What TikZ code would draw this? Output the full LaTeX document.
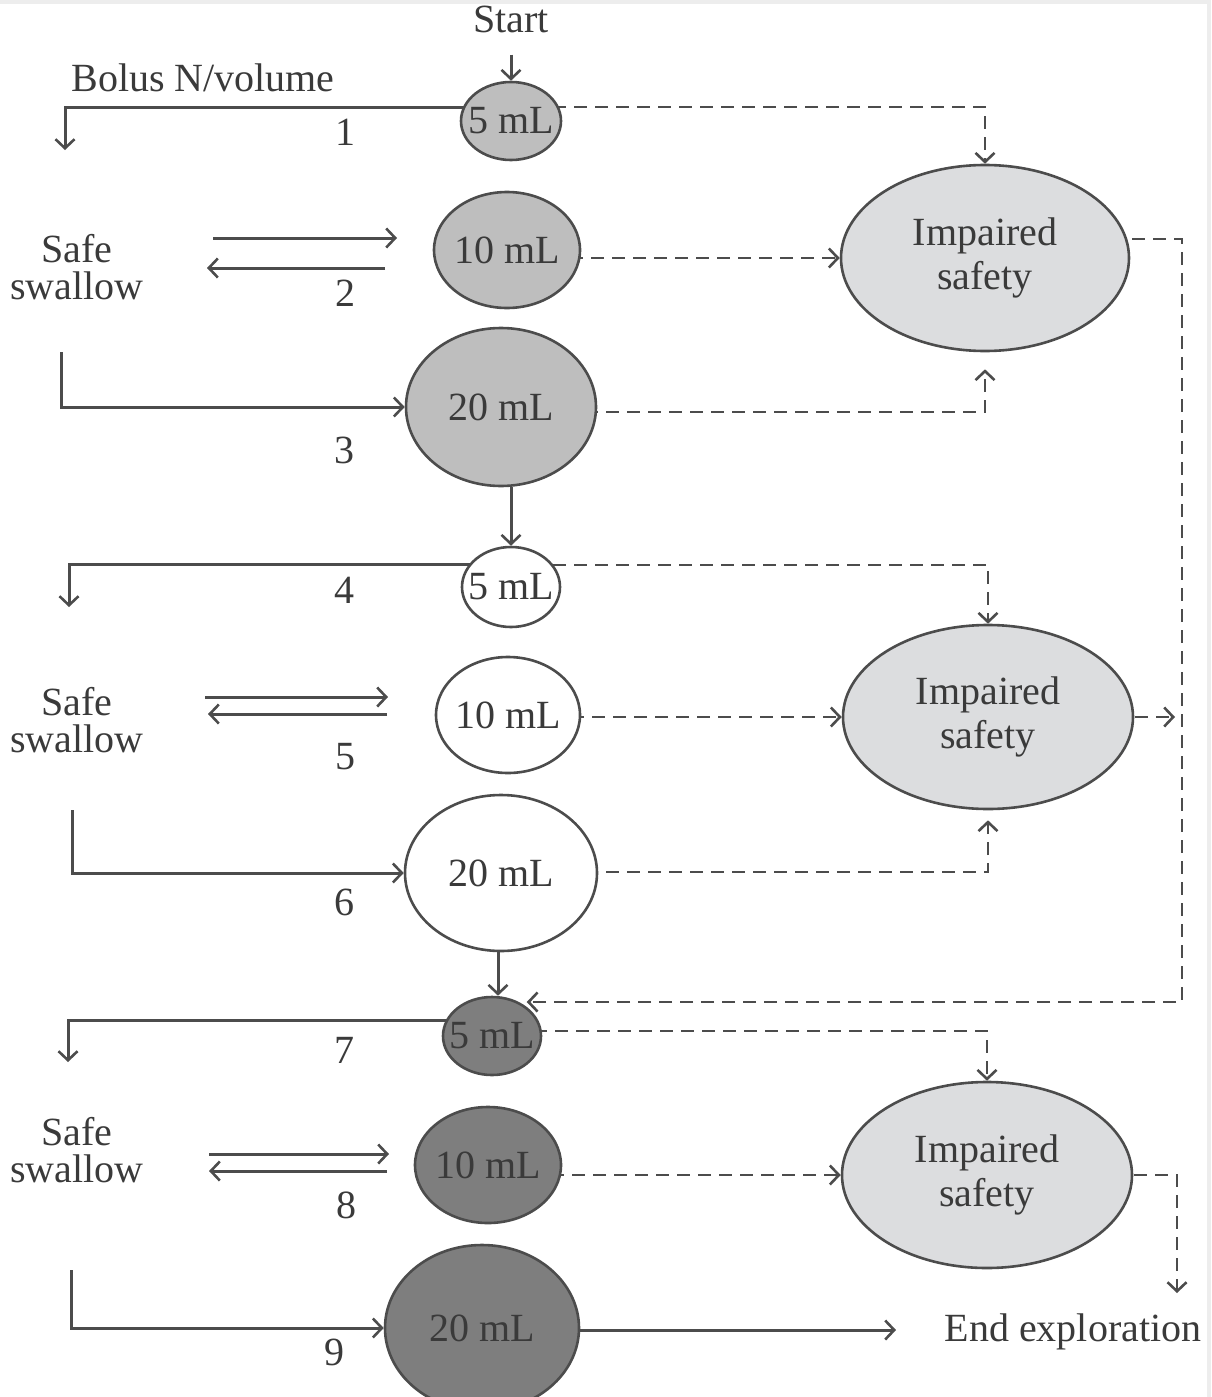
\documentclass[tikz,border=0pt]{standalone}
\usepackage{fontspec}
\setmainfont{Liberation Serif}
\usetikzlibrary{shapes.geometric,arrows.meta,backgrounds}
\definecolor{linec}{HTML}{4C4C4C}
\definecolor{textc}{HTML}{3A3A3A}
\definecolor{fillA}{HTML}{BEBEBE}
\definecolor{fillC}{HTML}{7E7E7E}
\definecolor{fillE}{HTML}{DCDDDF}
\begin{document}
\begin{tikzpicture}[x=1pt,y=-1pt,
  conn/.style={draw=linec, line width=3pt, -{Straight Barb[length=9pt,width=19pt,line width=2.6pt]}},
  dconn/.style={conn, line width=2.8pt, dash pattern=on 13pt off 8pt},
  lbl/.style={text=textc, inner sep=0pt, font=\fontsize{40}{40}\selectfont},
  txt/.style={text=textc, inner sep=0pt, align=center, font=\fontsize{40}{37}\selectfont},
  ilbl/.style={txt, font=\fontsize{40}{44}\selectfont},
  bol/.style={ellipse, draw=linec, line width=2.6pt, inner sep=0pt},
  ell/.style={bol, fill=fillE},
]
\useasboundingbox (0,0) rectangle (1211,1397);
\fill[black!7] (0,0) rectangle (1211,4);
\fill[black!7] (1207,0) rectangle (1211,1397);

% texts
\node[txt] (start) at (511,19) {Start};
\node[txt] (bolus) at (203,78) {Bolus N/volume};
\node[txt] (s1) at (77,267) {Safe\\swallow};
\node[txt] (s2) at (77,720) {Safe\\swallow};
\node[txt] (s3) at (77,1150) {Safe\\swallow};
\node[txt] (n1) at (345,132) {1};
\node[txt] (n2) at (345,293) {2};
\node[txt] (n3) at (344,450) {3};
\node[txt] (n4) at (344,590) {4};
\node[txt] (n5) at (345,757) {5};
\node[txt] (n6) at (344,902) {6};
\node[txt] (n7) at (344,1050) {7};
\node[txt] (n8) at (346,1205) {8};
\node[txt] (n9) at (334,1352) {9};
\node[txt] (end) at (1073,1332) {End exploration};

% bolus nodes
\node[bol, fill=fillA, minimum width=100pt, minimum height=78pt, label={[lbl]center:5 mL}] (c1) at (511,121) {};
\node[bol, fill=fillA, minimum width=146pt, minimum height=116pt, label={[lbl]center:10 mL}] (c2) at (507,250) {};
\node[bol, fill=fillA, minimum width=190pt, minimum height=158pt, label={[lbl]center:20 mL}] (c3) at (501,407) {};
\node[bol, fill=white, minimum width=98pt, minimum height=80pt, label={[lbl]center:5 mL}] (c4) at (511,587) {};
\node[bol, fill=white, minimum width=144pt, minimum height=116pt, label={[lbl]center:10 mL}] (c5) at (508,715) {};
\node[bol, fill=white, minimum width=192pt, minimum height=156pt, label={[lbl]center:20 mL}] (c6) at (501,873) {};
\node[bol, fill=fillC, minimum width=98pt, minimum height=78pt, label={[lbl]center:5 mL}] (c7) at (492,1036) {};
\node[bol, fill=fillC, minimum width=146pt, minimum height=116pt, label={[lbl]center:10 mL}] (c8) at (488,1165) {};
\node[bol, fill=fillC, minimum width=194pt, minimum height=166pt, label={[lbl]center:20 mL}] (c9) at (482,1328) {};

% impaired safety
\node[ell, minimum width=288pt, minimum height=186pt, label={[ilbl]center:Impaired\\safety}] (E1) at (985,258) {};
\node[ell, minimum width=290pt, minimum height=184pt, label={[ilbl]center:Impaired\\safety}] (E2) at (988,717) {};
\node[ell, minimum width=290pt, minimum height=186pt, label={[ilbl]center:Impaired\\safety}] (E3) at (987,1175) {};

% free coordinates
\coordinate (a1) at (65,150);
\coordinate (r2a) at (213,238);  \coordinate (r2b) at (397,238);
\coordinate (l2a) at (385,268);  \coordinate (l2b) at (207,268);
\coordinate (b3) at (61,352);
\coordinate (a4) at (69,607);
\coordinate (r5a) at (205,697);  \coordinate (r5b) at (388,697);
\coordinate (l5a) at (387,714);  \coordinate (l5b) at (208,714);
\coordinate (b6) at (72,810);
\coordinate (a7) at (68,1062);
\coordinate (r8a) at (209,1154); \coordinate (r8b) at (389,1154);
\coordinate (l8a) at (387,1171); \coordinate (l8b) at (209,1171);
\coordinate (b9) at (71,1270);
\coordinate (q1) at (1182,239);
\coordinate (q2) at (1182,1002);
\coordinate (e2r) at (1175,717);
\coordinate (a11) at (1177,1293);
\coordinate (endin) at (896,1330);

\begin{scope}[on background layer]
  % solid flow
  \draw[conn, shorten <=22pt] (start.south) -- (c1.north);
  \draw[conn] (c1.center |- 0,107) -| (a1);
  \draw[conn] (r2a) -- (r2b);
  \draw[conn] (l2a) -- (l2b);
  \draw[conn] (b3) |- (c3.west);
  \draw[conn] (c4.north |- c3.south) -- (c4.north);
  \draw[conn] (c4.center |- 0,564) -| (a4);
  \draw[conn] (r5a) -- (r5b);
  \draw[conn] (l5a) -- (l5b);
  \draw[conn] (b6) |- (c6.west);
  \draw[conn] ([xshift=-3pt]c6.south) -- ([xshift=6pt]c7.north);
  \draw[conn] (c7.center |- 0,1020) -| (a7);
  \draw[conn] (r8a) -- (r8b);
  \draw[conn] (l8a) -- (l8b);
  \draw[conn] (b9) |- (c9.west);
  \draw[conn] (c9.center |- endin) -- (endin);
  % dashed
  \draw[dconn] (c1.center |- 0,107) -| (E1.north);
  \draw[dconn] (c2.center |- E1.west) -- (E1.west);
  \draw[dconn, shorten >=17pt] (c3.center |- 0,412) -| (E1.south);
  \draw[dconn] (E1.center |- q1) -- (q1) -- (q2) -- (c7.40 |- q2);
  \draw[dconn] (c4.center |- 0,565) -| (E2.north);
  \draw[dconn] (c5.center |- E2.west) -- (E2.west);
  \draw[dconn, shorten >=10pt] (c6.center |- 0,872) -| (E2.south);
  \draw[dconn] (E2.center) -- (e2r);
  \draw[dconn] (c7.center |- 0,1031) -| (E3.north);
  \draw[dconn] (c8.center |- E3.west) -- (E3.west);
  \draw[dconn] (E3.center) -| (a11);
\end{scope}
\end{tikzpicture}
\end{document}
